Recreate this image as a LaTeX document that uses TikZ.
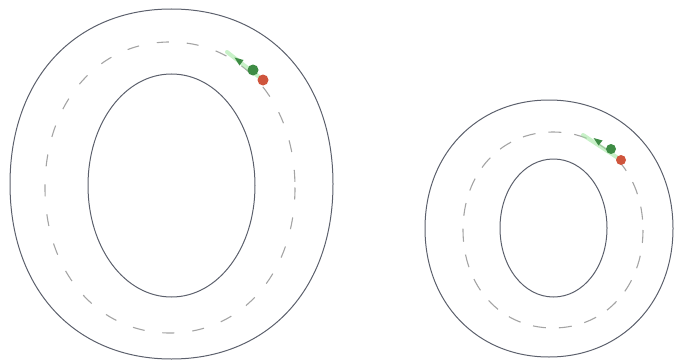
\documentclass[tikz,border=0pt]{standalone}
\usetikzlibrary{arrows.meta}
\definecolor{edgecol}{HTML}{5C606C}
\definecolor{dashcol}{HTML}{A4A4A4}
\definecolor{dotgreen}{HTML}{3E8C45}
\definecolor{trailgreen}{HTML}{9BE59B}
\definecolor{dotred}{HTML}{CF553D}
\tikzset{
  rim/.style={draw=edgecol, line width=1pt},
  midline/.style={draw=dashcol, line width=1.1pt},
  bigdash/.style={midline, dash pattern=on 12pt off 18pt},
  smalldash/.style={midline, dash pattern=on 13pt off 13pt},
  trail/.style={draw=trailgreen, line width=4pt, opacity=0.55, line cap=round},
  gdot/.style={fill=dotgreen},
  rdot/.style={fill=dotred},
}
% style, cx, cy, rx, ry, k
\newcommand\myoval[6]{%
\draw[#1] (#2+#4,#3) .. controls (#2+#4,#3+#6*#5) and (#2+#6*#4,#3+#5) .. (#2,#3+#5)
 .. controls (#2-#6*#4,#3+#5) and (#2-#4,#3+#6*#5) .. (#2-#4,#3)
 .. controls (#2-#4,#3-#6*#5) and (#2-#6*#4,#3-#5) .. (#2,#3-#5)
 .. controls (#2+#6*#4,#3-#5) and (#2+#4,#3-#6*#5) .. cycle;}
\begin{document}
\begin{tikzpicture}[x=1pt,y=-1pt]
\useasboundingbox (0,0) rectangle (674,361);
% big O
\myoval{rim}{171.5}{184}{161.5}{175}{0.6}
\myoval{rim}{171.5}{185.5}{83.5}{111.5}{0.56}
\myoval{bigdash}{170}{187.5}{125}{145.5}{0.58}
\coordinate (bs) at (227,52);
\coordinate (ba) at (239,61);
\coordinate (bg) at (253,70);
\coordinate (br) at (263,80);
\draw[trail] (bs) -- (br);
\fill[gdot] (ba) ++(-4.5,-3.5) -- ++(9,2.5) -- ++(-4,5.5) -- cycle;
\fill[gdot] (bg) circle (5.5);
\fill[rdot] (br) circle (5.5);
% small o
\myoval{rim}{549}{228.5}{124}{128.5}{0.58}
\myoval{rim}{553.5}{228}{53.5}{69}{0.56}
\myoval{smalldash}{553}{230}{90}{98}{0.58}
\coordinate (ss) at (583,135);
\coordinate (sa) at (598,141);
\coordinate (sg) at (611,149);
\coordinate (sr) at (621,160);
\draw[trail] (ss) -- (sr);
\fill[gdot] (sa) ++(-4.5,-3) -- ++(9,2.5) -- ++(-4,5) -- cycle;
\fill[gdot] (sg) circle (5);
\fill[rdot] (sr) circle (5);
\end{tikzpicture}
\end{document}
